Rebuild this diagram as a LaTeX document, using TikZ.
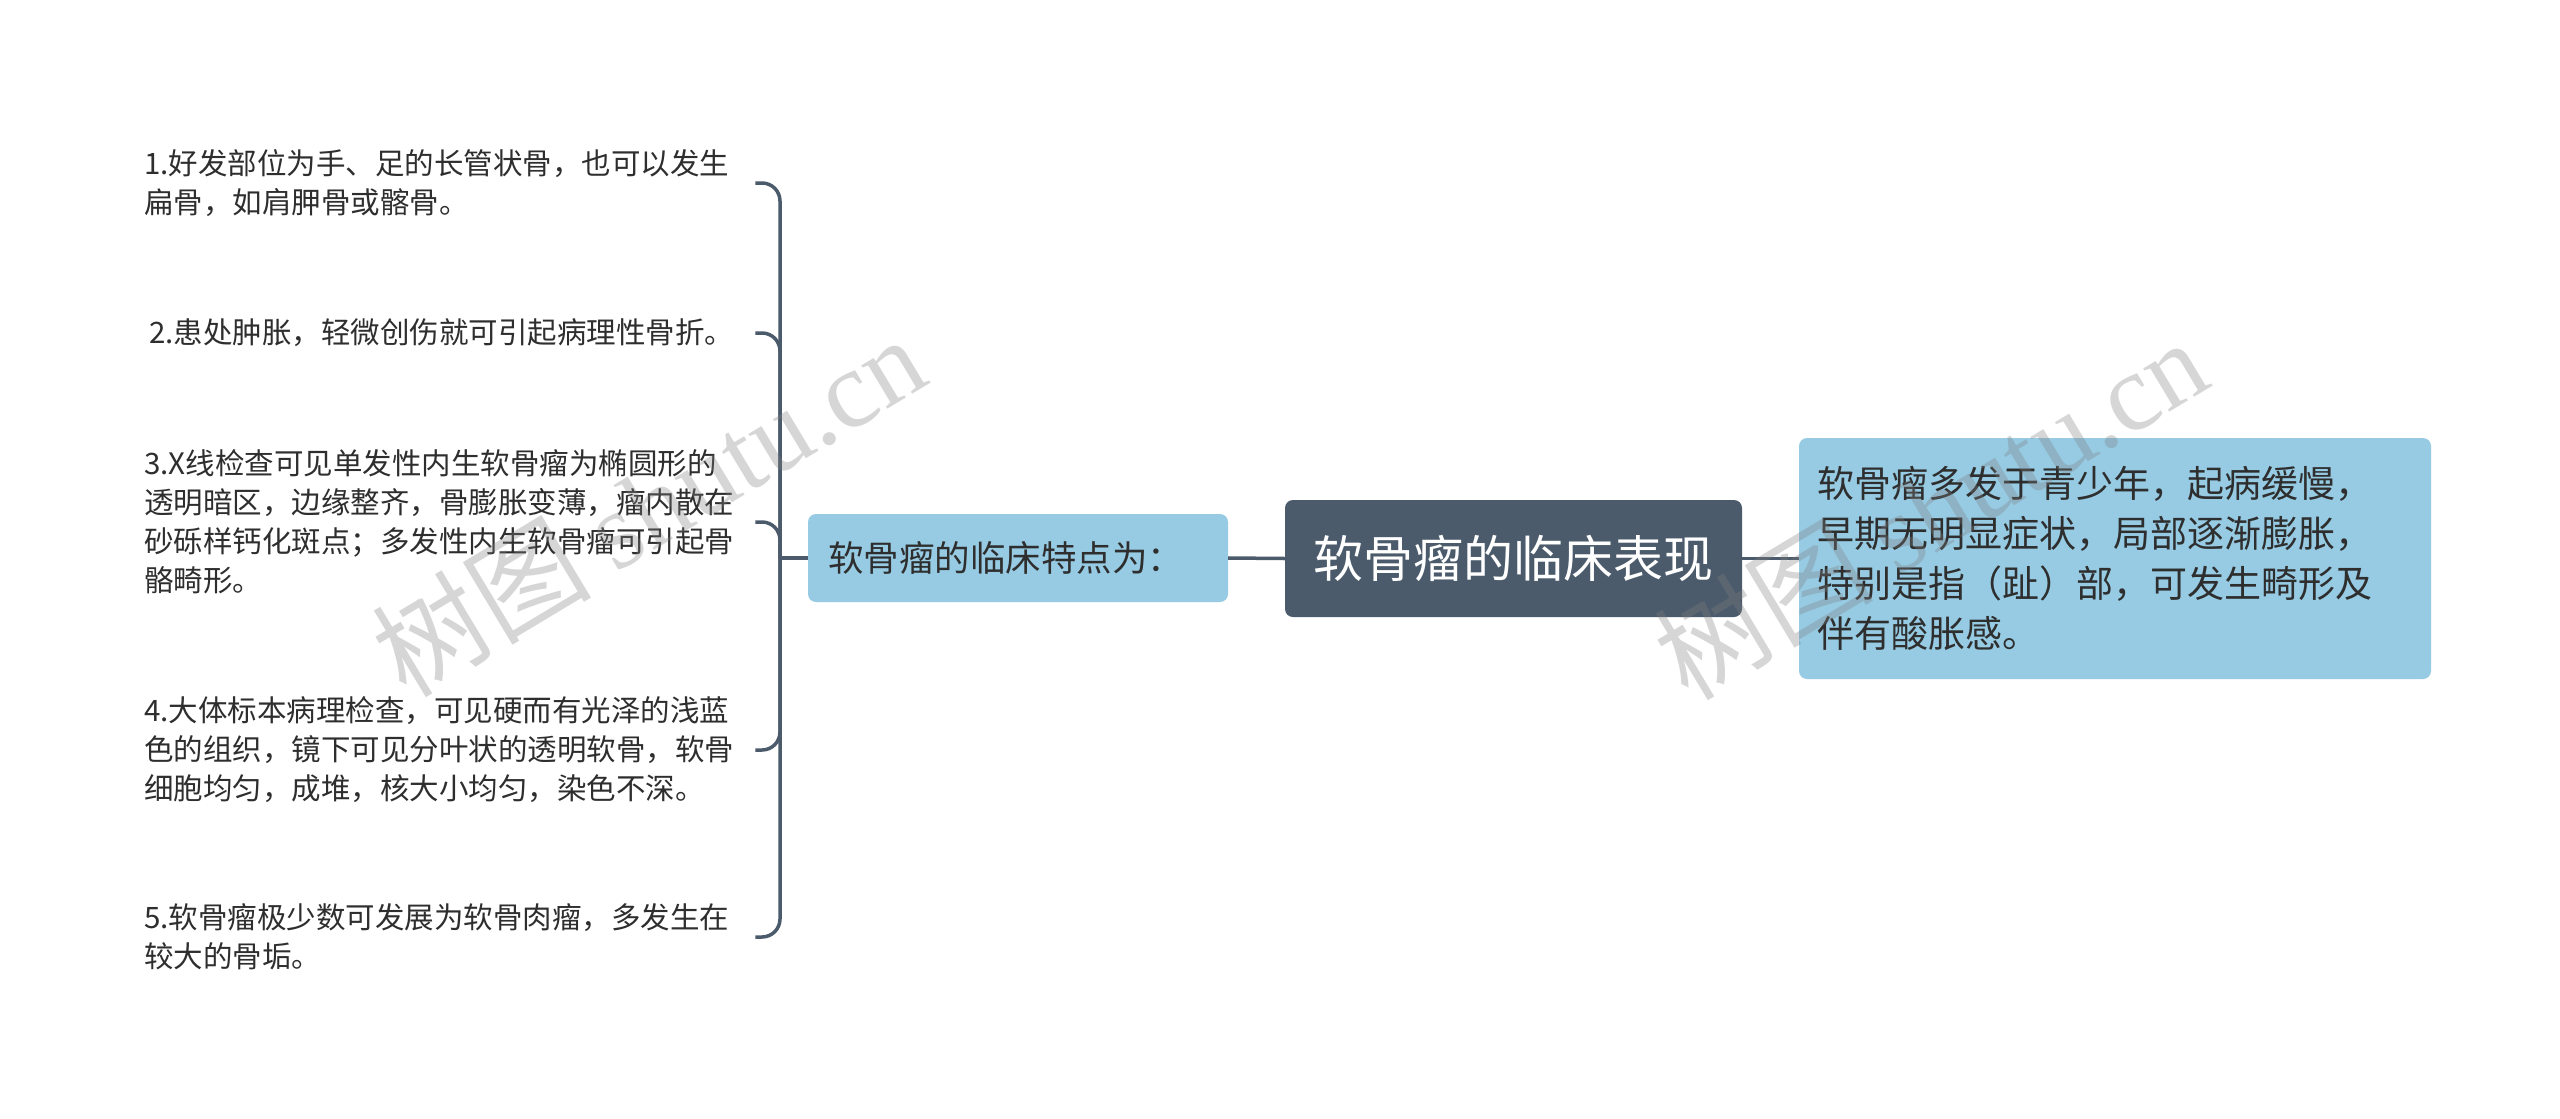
\documentclass[tikz,border=0pt]{standalone}
\usepackage{fontspec}
\setmainfont{Noto Sans CJK SC}
\newfontfamily\wmlatin{Liberation Serif}
\definecolor{slate}{HTML}{4B5B6B}
\definecolor{lblue}{HTML}{96CBE3}
\definecolor{txt}{HTML}{2E2E2E}
\tikzset{
  leaf/.style={anchor=west, inner sep=0pt, text width=611pt, align=left, text=txt,
    font=\fontsize{29.5}{39}\selectfont},
  conn/.style={draw=slate, line width=3.5pt},
  central/.style={fill=slate, rounded corners=8pt, minimum width=457pt, minimum height=117pt,
    text=white, font=\fontsize{50}{60}\selectfont, inner sep=0pt},
  midbox/.style={fill=lblue, rounded corners=8pt, minimum width=420pt, minimum height=88pt,
    text width=380pt, inner xsep=20pt, align=left, text=txt, font=\fontsize{35.5}{42}\selectfont},
  rightbox/.style={fill=lblue, rounded corners=8pt, text width=596pt, inner xsep=18pt,
    minimum height=241pt, align=left, text=txt, font=\fontsize{37}{50}\selectfont},
  wm/.style={text=gray, opacity=0.32, font=\fontsize{110}{110}\selectfont, inner sep=0pt}
}
\begin{document}
\begin{tikzpicture}[x=1pt,y=-1pt]
\useasboundingbox[fill=white] (0,0) rectangle (2560,1119);

\node[central] (c) at (1513.5,558.5) {软骨瘤的临床表现};
\node[midbox] (m) at (1018,558) {软骨瘤的临床特点为：};
\node[rightbox] (r) at (2115,558.5) {软骨瘤多发于青少年，起病缓慢，\\早期无明显症状，局部逐渐膨胀，\\特别是指（趾）部，可发生畸形及\\伴有酸胀感。};

\node[leaf] (l1) at (144,183) {1.好发部位为手、足的长管状骨，也可以发生\\扁骨，如肩胛骨或髂骨。};
\node[leaf] (l2) at (144,333) {\hspace{5pt}2.患处肿胀，轻微创伤就可引起病理性骨折。};
\node[leaf] (l3) at (144,522) {3.X线检查可见单发性内生软骨瘤为椭圆形的\\透明暗区，边缘整齐，骨膨胀变薄，瘤内散在\\砂砾样钙化斑点；多发性内生软骨瘤可引起骨\\骼畸形。};
\node[leaf] (l4) at (144,750) {4.大体标本病理检查，可见硬而有光泽的浅蓝\\色的组织，镜下可见分叶状的透明软骨，软骨\\细胞均匀，成堆，核大小均匀，染色不深。};
\node[leaf] (l5) at (144,937) {5.软骨瘤极少数可发展为软骨肉瘤，多发生在\\较大的骨垢。};

\coordinate (jn) at (780,558);
\draw[conn] (c.west) -- (m.east);
\draw[conn] (c.east) -- (r.west);
\draw[conn] (m.west) -- (jn);
\foreach \l in {l1,l2,l3,l4,l5}
  \draw[conn, rounded corners=18pt] (jn) |- (\l.east);

\node[wm, rotate=31] (w1) at (648,505) {树图 {\wmlatin shutu.cn}};
\node[wm, rotate=31] (w2) at (1930,508) {树图 {\wmlatin shutu.cn}};
\end{tikzpicture}
\end{document}
